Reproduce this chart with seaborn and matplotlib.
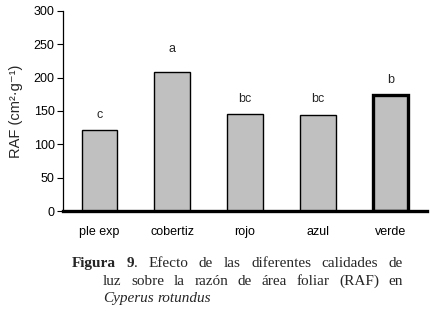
import matplotlib
matplotlib.use("Agg")
import matplotlib.pyplot as plt
import seaborn as sns
import pandas as pd

# Datos
tratamientos = ["ple exp", "cobertiz", "rojo", "azul", "verde"]
raf = [121, 208, 145, 144, 174]
letras = ["c", "a", "bc", "bc", "b"]

# estilo de cada barra / letra
grosor_borde = [1.0, 1.0, 1.0, 1.0, 2.4]
sep_letra = [19, 30, 19, 19, 18]

df = pd.DataFrame({"tratamiento": tratamientos, "RAF": raf})

sns.set_style("white")
plt.rcParams["font.family"] = ["Liberation Sans", "DejaVu Sans"]

fig = plt.figure(figsize=(4.3, 3.15), dpi=100)
ax = fig.add_axes([63 / 430, 1 - 211 / 315, 364 / 430, 200 / 315])

sns.barplot(data=df, x="tratamiento", y="RAF", color="#c0c0c0", width=0.49,
            edgecolor="black", saturation=1, ax=ax)
for barra, lw in zip(ax.patches, grosor_borde):
    barra.set_linewidth(lw)

for i, (v, t, s) in enumerate(zip(raf, letras, sep_letra)):
    ax.text(i, v + s, t, ha="center", va="baseline", fontsize=9)

ax.set_ylim(0, 300)
ax.set_xlim(-0.5, 4.5)
ax.set_yticks(range(0, 301, 50))
ax.set_xlabel("")
ax.set_ylabel("RAF (cm²·g⁻¹)", fontsize=10.5, labelpad=8)
ax.tick_params(axis="y", left=True, direction="out", length=4, width=0.8,
               labelsize=9, pad=2, colors="black")
ax.tick_params(axis="x", bottom=False, labelsize=9, pad=7, colors="black")

for lado in ["top", "right"]:
    ax.spines[lado].set_visible(False)
ax.spines["left"].set_linewidth(0.9)
ax.spines["bottom"].set_linewidth(2.4)
ax.spines["left"].set_color("black")
ax.spines["bottom"].set_color("black")

# Pie de figura (texto justificado como en el original)
serif = ["Liberation Serif", "DejaVu Serif"]
tam = 11
renderer = fig.canvas.get_renderer()


def ancho(txt, **kw):
    t = fig.text(0, 0, txt, fontsize=tam, family=serif, **kw)
    w = t.get_window_extent(renderer).width
    t.remove()
    return w


def linea(palabras, x0, y, x1=None):
    # palabras: lista de listas de (texto, opciones)
    anchos = [[ancho(p, **kw) for p, kw in pal] for pal in palabras]
    total = sum(sum(a) for a in anchos)
    if x1 is None:
        hueco = ancho("a b") - ancho("ab")
    else:
        hueco = (x1 - x0 - total) / (len(palabras) - 1)
    x = x0
    for pal, an in zip(palabras, anchos):
        for (p, kw), a in zip(pal, an):
            fig.text(x / 430, 1 - y / 315, p, fontsize=tam, family=serif,
                     va="baseline", ha="left", **kw)
            x += a
        x += hueco


normal = {}
negrita = {"fontweight": "bold"}
cursiva = {"style": "italic"}

l1 = [[("Figura", negrita)], [("9", negrita), (".", normal)]]
l1 += [[(w, normal)] for w in "Efecto de las diferentes calidades de".split()]
l2 = [[(w, normal)] for w in "luz sobre la razón de área foliar (RAF) en".split()]
l3 = [[(w, cursiva)] for w in "Cyperus rotundus".split()]

linea(l1, 72, 267, 403)
linea(l2, 103, 285, 403)
linea(l3, 103, 302)

fig.savefig("out.png", dpi=100)
